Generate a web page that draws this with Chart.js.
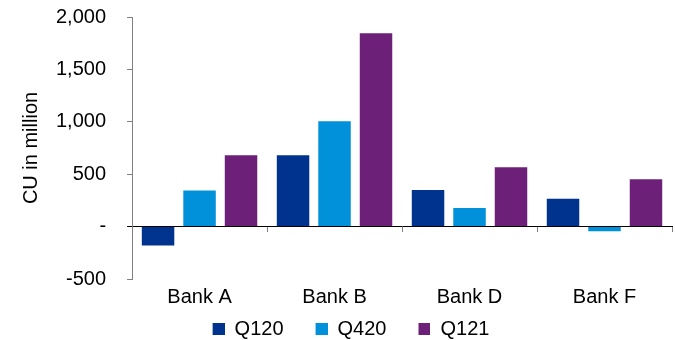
<!DOCTYPE html>
<html><head><meta charset="utf-8">
<script src="https://cdn.jsdelivr.net/npm/chart.js@4.4.1/dist/chart.umd.min.js"></script>
<style>html,body{margin:0;padding:0;background:#fff;}#wrap{width:675px;height:340px;position:relative;}</style>
</head><body><div id="wrap"><canvas id="c" width="675" height="340"></canvas></div>
<script>
const categories = ['Bank A', 'Bank B', 'Bank D', 'Bank F'];
const seriesNames = ['Q120', 'Q420', 'Q121'];
const q120 = [-180, 680, 350, 265];
const q420 = [345, 1005, 178, -45];
const q121 = [680, 1845, 566, 452];
const yTicks = [-500, 0, 500, 1000, 1500, 2000];
const yTitle = 'CU in million';
const colors = ['#00338D', '#0091DA', '#6D2077'];

Chart.defaults.font.family = 'Liberation Sans, Arial, sans-serif';
Chart.defaults.font.size = 20;
Chart.defaults.color = '#000';

function makeSwatch(color) {
  const c = document.createElement('canvas');
  c.width = 34; c.height = 12;
  const g = c.getContext('2d');
  g.fillStyle = color;
  g.fillRect(22, 0, 12, 12);
  return c;
}
const swatches = colors.map(makeSwatch);

const seriesValues = [q120, q420, q121];
const datasets = seriesNames.map((name, i) => ({
  label: name,
  data: seriesValues[i],
  backgroundColor: colors[i],
  borderWidth: 0,
  xAxisID: 'x',
  yAxisID: 'y',
  categoryPercentage: 0.922,
  barPercentage: 0.783
}));

new Chart(document.getElementById('c'), {
  type: 'bar',
  data: { labels: categories, datasets },
  options: {
    responsive: false,
    animation: false,
    layout: { padding: { left: 8, right: 3, top: 17, bottom: -9 } },
    plugins: {
      tooltip: { enabled: false },
      legend: {
        position: 'bottom',
        labels: {
          usePointStyle: true,
          pointStyleWidth: 34,
          padding: 10,
          font: { size: 20 },
          color: '#000',
          generateLabels(chart) {
            const items = Chart.defaults.plugins.legend.labels.generateLabels(chart);
            items.forEach((it, i) => { it.pointStyle = swatches[i]; });
            return items;
          }
        }
      }
    },
    scales: {
      x: {
        axis: 'x',
        type: 'category',
        position: { y: 0 },
        offset: true,
        grid: { offset: true, drawOnChartArea: false, drawTicks: true, tickLength: 5, color: '#7f7f7f' },
        border: { display: true, color: '#000', width: 1 },
        ticks: { display: false }
      },
      x2: {
        axis: 'x',
        type: 'category',
        labels: categories,
        position: 'bottom',
        offset: true,
        grid: { display: false, drawTicks: true, tickLength: 6 },
        border: { display: false },
        ticks: { padding: 0, color: '#000', font: { size: 20 }, maxRotation: 0, autoSkip: false }
      },
      y: {
        min: yTicks[0],
        max: yTicks[yTicks.length - 1],
        afterFit(scale) { scale.paddingTop = 0; scale.paddingBottom = 0; },
        ticks: {
          stepSize: yTicks[1] - yTicks[0],
          padding: 21,
          color: '#000',
          font: { size: 20 },
          callback: v => v === 0 ? '-' : Number(v).toLocaleString('en-US')
        },
        grid: {
          drawOnChartArea: false, drawTicks: true, tickLength: 5,
          color: ctx => (ctx.tick && ctx.tick.value === 0) ? '#000' : '#808080'
        },
        border: { display: true, color: '#808080', width: 1 },
        title: { display: true, text: yTitle, color: '#000', font: { size: 20 }, padding: { top: 11, bottom: -8 } }
      }
    }
  }
});
</script></body></html>
